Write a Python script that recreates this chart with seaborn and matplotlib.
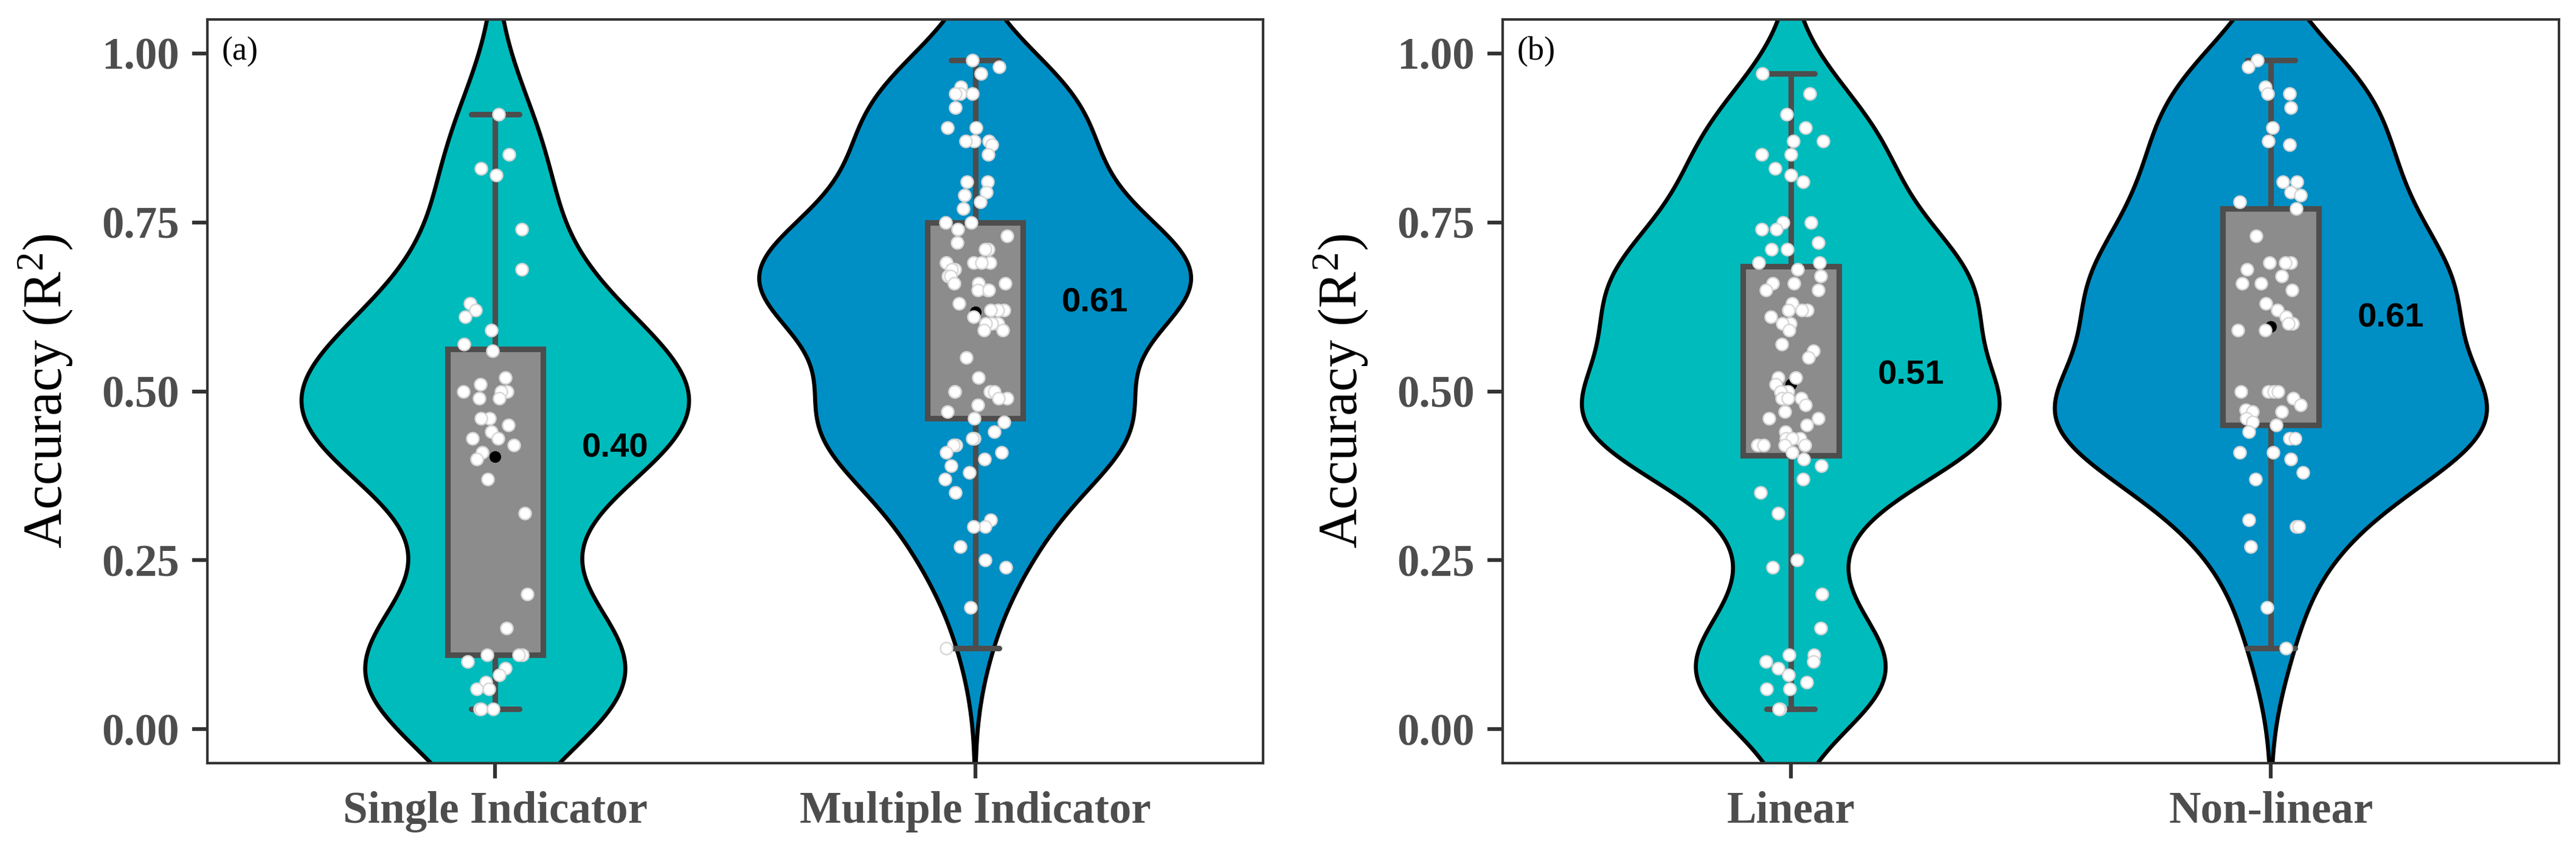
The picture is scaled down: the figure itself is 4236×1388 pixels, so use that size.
import numpy as np
import pandas as pd
import matplotlib
matplotlib.use("Agg")
import matplotlib.pyplot as plt
import seaborn as sns

# ---------------- data ----------------
single_indicator = [0.91, 0.85, 0.83, 0.82, 0.74, 0.68, 0.63, 0.62, 0.61, 0.59, 0.57, 0.56,
                    0.52, 0.51, 0.50, 0.50, 0.50, 0.49, 0.49, 0.46, 0.46, 0.45, 0.44, 0.43,
                    0.43, 0.42, 0.41, 0.40, 0.37, 0.32, 0.20, 0.15, 0.11, 0.11, 0.11, 0.10,
                    0.09, 0.08, 0.07, 0.06, 0.06, 0.03, 0.03, 0.03]
multiple_indicator = [0.99, 0.98, 0.97, 0.95, 0.94, 0.94, 0.94, 0.92, 0.89, 0.89, 0.87, 0.87,
                      0.87, 0.865, 0.85, 0.81, 0.81, 0.795, 0.79, 0.78, 0.77, 0.75, 0.75, 0.74,
                      0.73, 0.72, 0.71, 0.71, 0.69, 0.69, 0.69, 0.69, 0.69, 0.68, 0.68, 0.67,
                      0.67, 0.66, 0.66, 0.66, 0.65, 0.65, 0.65, 0.63, 0.62, 0.62, 0.62, 0.61,
                      0.60, 0.60, 0.60, 0.59, 0.59, 0.55, 0.52, 0.50, 0.50, 0.50, 0.50, 0.49,
                      0.49, 0.48, 0.47, 0.46, 0.455, 0.44, 0.43, 0.43, 0.42, 0.42, 0.41, 0.41,
                      0.40, 0.39, 0.38, 0.37, 0.35, 0.31, 0.30, 0.30, 0.27, 0.25, 0.24, 0.18,
                      0.12]
linear = [0.97, 0.94, 0.91, 0.89, 0.87, 0.87, 0.85, 0.85, 0.83, 0.82, 0.81, 0.75, 0.75,
          0.74, 0.74, 0.72, 0.71, 0.71, 0.69, 0.69, 0.68, 0.67, 0.66, 0.66, 0.65, 0.65,
          0.63, 0.62, 0.62, 0.62, 0.61, 0.60, 0.60, 0.59, 0.57, 0.56, 0.55, 0.52, 0.52,
          0.51, 0.50, 0.50, 0.49, 0.49, 0.49, 0.48, 0.47, 0.46, 0.46, 0.45, 0.44, 0.43,
          0.43, 0.43, 0.42, 0.42, 0.42, 0.42, 0.41, 0.40, 0.39, 0.37, 0.35, 0.32, 0.25,
          0.24, 0.20, 0.15, 0.11, 0.11, 0.10, 0.10, 0.09, 0.08, 0.07, 0.06, 0.06, 0.03,
          0.03]
non_linear = [0.99, 0.98, 0.95, 0.94, 0.94, 0.92, 0.89, 0.87, 0.865, 0.81, 0.81, 0.795,
              0.79, 0.78, 0.77, 0.73, 0.69, 0.69, 0.69, 0.68, 0.67, 0.66, 0.66, 0.65,
              0.63, 0.62, 0.61, 0.60, 0.60, 0.59, 0.59, 0.50, 0.50, 0.50, 0.50, 0.49,
              0.48, 0.473, 0.47, 0.47, 0.46, 0.455, 0.45, 0.44, 0.43, 0.43, 0.41, 0.41,
              0.40, 0.38, 0.37, 0.31, 0.30, 0.30, 0.27, 0.18, 0.12]

panel_a_categories = ["Single Indicator", "Multiple Indicator"]
panel_b_categories = ["Linear", "Non-linear"]
panel_a_mean_labels = ["0.40", "0.61"]
panel_b_mean_labels = ["0.51", "0.61"]
panel_tags = ["(a)", "(b)"]
y_ticks = [0.00, 0.25, 0.50, 0.75, 1.00]
y_tick_labels = ["0.00", "0.25", "0.50", "0.75", "1.00"]
y_label = "Accuracy (R$^{2}$)"
violin_colors = ["#00BBBC", "#008FC4"]

# ---------------- style ----------------
sns.set_theme(style="white")
plt.rcParams["font.family"] = ["Liberation Serif", "DejaVu Serif"]
plt.rcParams["mathtext.default"] = "regular"

W, H, DPI = 4236, 1388, 300
fig = plt.figure(figsize=(W / DPI, H / DPI), dpi=DPI)
ax_a = fig.add_axes([341 / W, 1 - 1255 / H, 1736 / W, (1255 - 32) / H])
ax_b = fig.add_axes([2471 / W, 1 - 1255 / H, 1737 / W, (1255 - 32) / H])


def nrd0(kde):
    d = np.asarray(kde.dataset).ravel()
    n = d.size
    sd = np.std(d, ddof=1)
    q75, q25 = np.percentile(d, [75, 25])
    lo = min(sd, (q75 - q25) / 1.34)
    return 0.9 * lo * n ** (-0.2) / sd


def draw_panel(ax, cats, groups, mean_labels, tag, seed):
    df = pd.DataFrame({
        "group": np.repeat(cats, [len(g) for g in groups]),
        "value": np.concatenate([np.asarray(g, float) for g in groups]),
    })
    sns.violinplot(data=df, x="group", y="value", hue="group", order=cats,
                   hue_order=cats, palette=violin_colors, inner=None, cut=3,
                   bw_method=nrd0, density_norm="area", common_norm=True,
                   width=0.9, linewidth=1.6, linecolor="black", saturation=1,
                   legend=False, gridsize=600, ax=ax)
    sns.boxplot(data=df, x="group", y="value", order=cats, width=0.2,
                color="#8C8C8C", saturation=1, showfliers=False,
                linecolor="#4D4D4D", linewidth=2.2,
                medianprops={"visible": False}, capwidths=0.1, ax=ax)
    sns.pointplot(data=df, x="group", y="value", order=cats, estimator="mean",
                  errorbar=None, color="black", markers="o", linestyle="none",
                  markersize=4.6, markeredgewidth=0, ax=ax)
    for ln in ax.lines[-len(cats):]:
        ln.set_zorder(5)
    np.random.seed(seed)
    sns.stripplot(data=df, x="group", y="value", order=cats, color="white",
                  edgecolor="#D8D8D8", linewidth=0.6, size=4.8, jitter=0.07,
                  zorder=6, ax=ax)
    means = df.groupby("group")["value"].mean().reindex(cats)
    for i, (c, lab) in enumerate(zip(cats, mean_labels)):
        ax.text(i + 0.25, means[c], lab, ha="center", va="baseline",
                fontsize=13.5, fontweight="bold",
                family=["Liberation Sans", "DejaVu Sans"], color="black", zorder=7)
    ax.text(0.0135, 0.977, tag, transform=ax.transAxes, ha="left", va="top",
            fontsize=13, color="black")

    ax.set_xlim(-0.6, 1.6)
    ax.set_ylim(-0.05, 1.05)
    ax.set_yticks(y_ticks)
    ax.set_yticklabels(y_tick_labels)
    ax.set_xlabel("")
    ax.set_ylabel(y_label, fontsize=21.5, color="black", labelpad=11)
    ax.tick_params(axis="both", which="major", direction="out", length=6, width=1.5,
                   color="#333333", labelsize=17.5, labelcolor="#4D4D4D", pad=5,
                   left=True, bottom=True)
    for t in ax.get_xticklabels() + ax.get_yticklabels():
        t.set_fontweight("bold")
    for s in ax.spines.values():
        s.set_visible(True)
        s.set_color("#333333")
        s.set_linewidth(1.0)
    ax.grid(False)
    ax.set_facecolor("white")


draw_panel(ax_a, panel_a_categories, [single_indicator, multiple_indicator],
           panel_a_mean_labels, panel_tags[0], 3)
draw_panel(ax_b, panel_b_categories, [linear, non_linear],
           panel_b_mean_labels, panel_tags[1], 7)

fig.savefig("out.png", dpi=DPI, facecolor="white")
